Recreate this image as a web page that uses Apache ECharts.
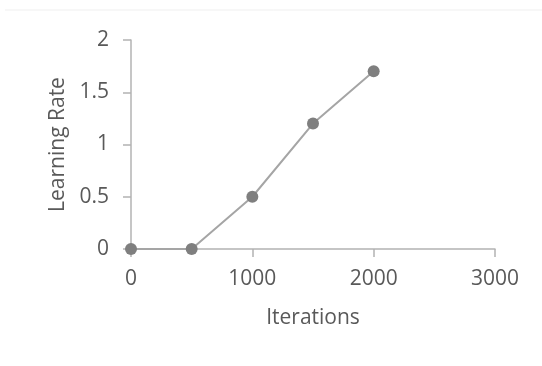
<!DOCTYPE html>
<html>
<head>
<meta charset="utf-8">
<script src="https://cdn.jsdelivr.net/npm/echarts@6/dist/echarts.min.js"></script>
<style>
  html, body { margin: 0; padding: 0; background: #fff; }
  #chart { width: 542px; height: 366px; }
</style>
</head>
<body>
<div id="chart"></div>
<script>
// data
var iterations = [0, 500, 1000, 1500, 2000];
var learningRate = [0, 0, 0.5, 1.2, 1.7];

var points = [];
for (var i = 0; i < iterations.length; i++) {
  points.push([iterations[i], learningRate[i]]);
}

var labelStyle = {
  color: '#595959',
  fontFamily: 'Open Sans',
  fontSize: 21
};

var myChart = echarts.init(document.getElementById('chart'));
var option = {
  animation: false,
  grid: {
    left: 131,
    right: 47,
    top: 40,
    bottom: 117
  },
  graphic: [{
    type: 'line',
    shape: { x1: 5, y1: 10, x2: 542, y2: 10 },
    style: { stroke: '#efefef', lineWidth: 1 }
  }],
  xAxis: {
    type: 'value',
    min: 0,
    max: 3000,
    interval: 1000,
    name: 'Iterations',
    nameLocation: 'middle',
    nameGap: 59,
    nameTextStyle: labelStyle,
    axisLine: { show: true, lineStyle: { color: '#b3b3b3', width: 1.5 } },
    axisTick: { show: true, length: 8, lineStyle: { color: '#b3b3b3', width: 1.5 } },
    axisLabel: Object.assign({
      margin: 20,
      formatter: function (v) { return String(v); }
    }, labelStyle),
    splitLine: { show: false }
  },
  yAxis: {
    type: 'value',
    min: 0,
    max: 2,
    interval: 0.5,
    name: 'Learning Rate',
    nameLocation: 'middle',
    nameGap: 62,
    nameTextStyle: labelStyle,
    axisLine: { show: true, lineStyle: { color: '#b3b3b3', width: 1.5 } },
    axisTick: { show: true, length: 8, lineStyle: { color: '#b3b3b3', width: 1.5 } },
    axisLabel: Object.assign({ margin: 22 }, labelStyle),
    splitLine: { show: false }
  },
  series: [{
    type: 'line',
    data: points,
    symbol: 'circle',
    symbolSize: 12,
    lineStyle: { color: '#a5a5a5', width: 2 },
    itemStyle: { color: '#7f7f7f' }
  }]
};
myChart.setOption(option);
</script>
</body>
</html>
